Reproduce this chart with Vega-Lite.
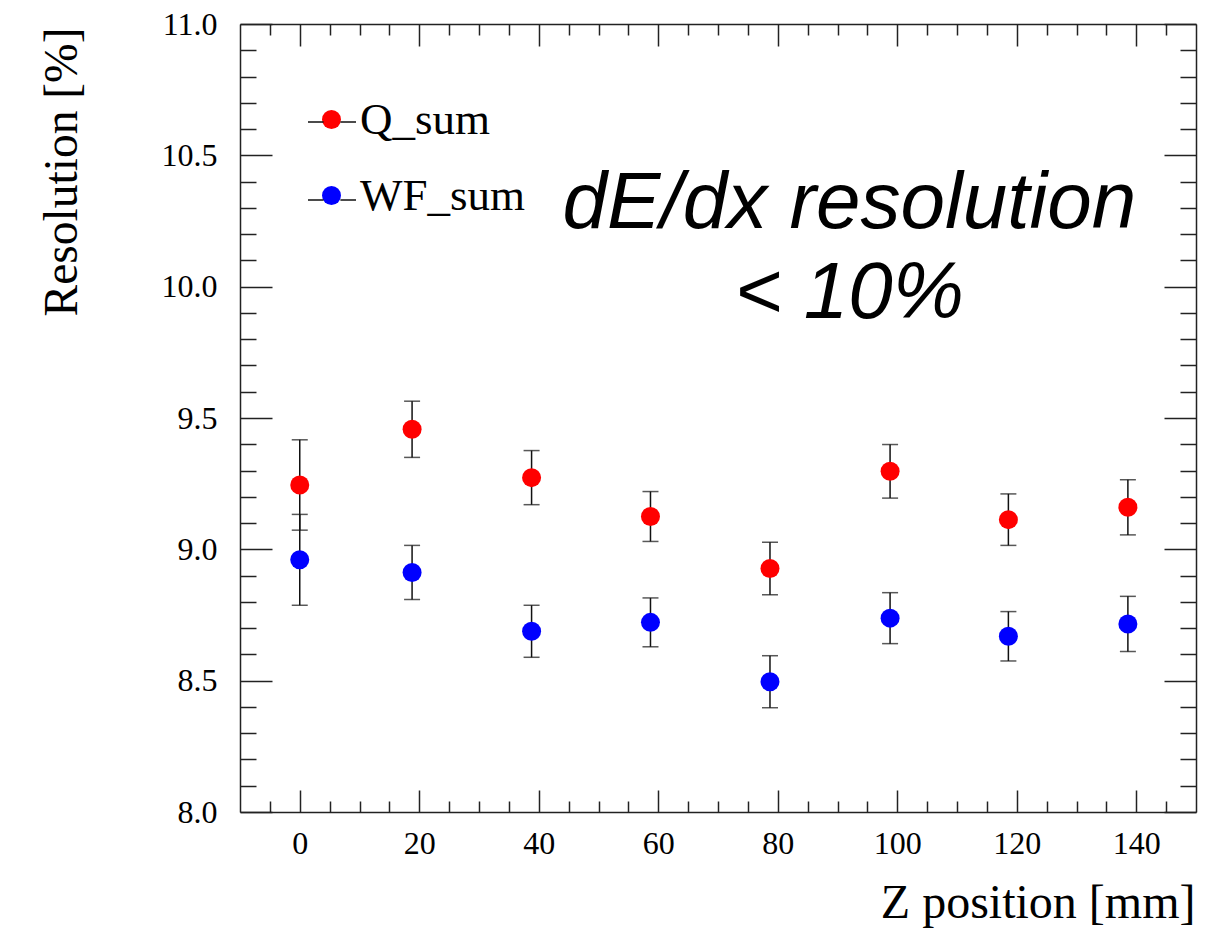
{
  "$schema": "https://vega.github.io/schema/vega-lite/v6.json",
  "width": 956,
  "height": 788,
  "autosize": {"type": "none"},
  "padding": {"left": 240, "top": 24, "right": 17, "bottom": 119},
  "background": "white",
  "config": {
    "view": {"stroke": null},
    "axis": {
      "grid": false,
      "labelFont": "Liberation Serif",
      "titleFont": "Liberation Serif",
      "labelColor": "black",
      "titleColor": "black",
      "tickColor": "#222",
      "domainColor": "#222",
      "titleFontWeight": "normal",
      "labelFlush": false,
      "labelOverlap": false
    }
  },
  "data": {
    "values": [
      {"z": 0, "res": 9.245, "err": 0.172, "series": "Q_sum"},
      {"z": 18.8, "res": 9.457, "err": 0.107, "series": "Q_sum"},
      {"z": 38.8, "res": 9.273, "err": 0.103, "series": "Q_sum"},
      {"z": 58.7, "res": 9.125, "err": 0.095, "series": "Q_sum"},
      {"z": 78.7, "res": 8.927, "err": 0.1, "series": "Q_sum"},
      {"z": 98.8, "res": 9.297, "err": 0.102, "series": "Q_sum"},
      {"z": 118.6, "res": 9.113, "err": 0.098, "series": "Q_sum"},
      {"z": 138.6, "res": 9.16, "err": 0.105, "series": "Q_sum"},
      {"z": 0, "res": 8.96, "err": 0.173, "series": "WF_sum"},
      {"z": 18.8, "res": 8.912, "err": 0.103, "series": "WF_sum"},
      {"z": 38.8, "res": 8.688, "err": 0.099, "series": "WF_sum"},
      {"z": 58.7, "res": 8.722, "err": 0.093, "series": "WF_sum"},
      {"z": 78.7, "res": 8.496, "err": 0.099, "series": "WF_sum"},
      {"z": 98.8, "res": 8.738, "err": 0.097, "series": "WF_sum"},
      {"z": 118.6, "res": 8.669, "err": 0.094, "series": "WF_sum"},
      {"z": 138.6, "res": 8.716, "err": 0.105, "series": "WF_sum"}
    ]
  },
  "resolve": {"axis": {"x": "independent", "y": "independent"}},
  "layer": [
    {
      "mark": {"type": "errorbar", "color": "#111", "thickness": 1.5, "ticks": {"size": 16, "thickness": 1.5, "color": "#111"}},
      "encoding": {
        "x": {"field": "z", "type": "quantitative", "scale": {"domain": [-10, 150], "nice": false, "zero": false}, "axis": null},
        "y": {"field": "res", "type": "quantitative", "scale": {"domain": [8, 11], "nice": false, "zero": false}, "axis": null},
        "yError": {"field": "err"}
      }
    },
    {
      "mark": {"type": "point", "shape": "circle", "filled": true, "size": 361, "opacity": 1, "strokeWidth": 0},
      "encoding": {
        "x": {"field": "z", "type": "quantitative", "scale": {"domain": [-10, 150], "nice": false, "zero": false},
          "axis": {"orient": "bottom", "values": [0, 20, 40, 60, 80, 100, 120, 140], "tickSize": -22, "tickWidth": 1.5, "domain": true, "domainWidth": 1.5,
            "labelFontSize": 32, "labelPadding": 38, "title": "Z position [mm]", "titleFontSize": 48, "titleAnchor": "end", "titleAlign": "right",
            "titleX": 955, "titleY": 105, "titleBaseline": "alphabetic"}},
        "y": {"field": "res", "type": "quantitative", "scale": {"domain": [8, 11], "nice": false, "zero": false},
          "axis": {"orient": "left", "values": [8, 8.5, 9, 9.5, 10, 10.5, 11], "format": ".1f", "tickSize": -32, "tickWidth": 1.5, "domain": true, "domainWidth": 1.5,
            "labelFontSize": 32, "labelPadding": 55, "title": "Resolution [%]", "titleFontSize": 47.5, "titleAngle": -90, "titleAnchor": "end", "titleAlign": "right",
            "titleX": -164, "titleY": 3, "titleBaseline": "alphabetic"}},
        "color": {"field": "series", "type": "nominal", "scale": {"domain": ["Q_sum", "WF_sum"], "range": ["#ff0000", "#0000ff"]},
          "legend": {"title": null, "orient": "none", "legendX": 69, "legendY": 73, "symbolType": "circle", "symbolSize": 361, "symbolStrokeWidth": 0,
            "labelFont": "Liberation Serif", "labelFontSize": 45, "labelColor": "black", "labelOffset": 6, "labelLimit": 500, "rowPadding": 30, "padding": 0}}
      }
    },
    {
      "mark": {"type": "point", "opacity": 0},
      "encoding": {
        "x": {"field": "z", "type": "quantitative", "scale": {"domain": [-10, 150], "nice": false, "zero": false},
          "axis": {"orient": "bottom", "values": [-5, 5, 10, 15, 25, 30, 35, 45, 50, 55, 65, 70, 75, 85, 90, 95, 105, 110, 115, 125, 130, 135, 145],
            "tickSize": -11, "tickWidth": 1.5, "domain": false, "labels": false, "title": null}},
        "y": {"field": "res", "type": "quantitative", "scale": {"domain": [8, 11], "nice": false, "zero": false},
          "axis": {"orient": "left", "values": [8.1, 8.2, 8.3, 8.4, 8.6, 8.7, 8.8, 8.9, 9.1, 9.2, 9.3, 9.4, 9.6, 9.7, 9.8, 9.9, 10.1, 10.2, 10.3, 10.4, 10.6, 10.7, 10.8, 10.9],
            "tickSize": -16, "tickWidth": 1.5, "domain": false, "labels": false, "title": null}}
      }
    },
    {
      "mark": {"type": "point", "opacity": 0},
      "encoding": {
        "x": {"field": "z", "type": "quantitative", "scale": {"domain": [-10, 150], "nice": false, "zero": false},
          "axis": {"orient": "top", "values": [0, 20, 40, 60, 80, 100, 120, 140], "tickSize": -22, "tickWidth": 1.5, "domain": true, "domainWidth": 1.5, "labels": false, "title": null}},
        "y": {"field": "res", "type": "quantitative", "scale": {"domain": [8, 11], "nice": false, "zero": false},
          "axis": {"orient": "right", "values": [8, 8.5, 9, 9.5, 10, 10.5, 11], "tickSize": -32, "tickWidth": 1.5, "domain": true, "domainWidth": 1.5, "labels": false, "title": null}}
      }
    },
    {
      "mark": {"type": "point", "opacity": 0},
      "encoding": {
        "x": {"field": "z", "type": "quantitative", "scale": {"domain": [-10, 150], "nice": false, "zero": false},
          "axis": {"orient": "top", "values": [-5, 5, 10, 15, 25, 30, 35, 45, 50, 55, 65, 70, 75, 85, 90, 95, 105, 110, 115, 125, 130, 135, 145],
            "tickSize": -11, "tickWidth": 1.5, "domain": false, "labels": false, "title": null}},
        "y": {"field": "res", "type": "quantitative", "scale": {"domain": [8, 11], "nice": false, "zero": false},
          "axis": {"orient": "right", "values": [8.1, 8.2, 8.3, 8.4, 8.6, 8.7, 8.8, 8.9, 9.1, 9.2, 9.3, 9.4, 9.6, 9.7, 9.8, 9.9, 10.1, 10.2, 10.3, 10.4, 10.6, 10.7, 10.8, 10.9],
            "tickSize": -16, "tickWidth": 1.5, "domain": false, "labels": false, "title": null}}
      }
    },
    {
      "data": {"values": [
        {"z": 92, "res": 10.224, "label": "dE/dx resolution"},
        {"z": 92, "res": 9.882, "label": "< 10%"}
      ]},
      "mark": {"type": "text", "font": "Liberation Sans", "fontStyle": "italic", "fontSize": 80, "align": "center", "baseline": "alphabetic", "color": "black"},
      "encoding": {
        "x": {"field": "z", "type": "quantitative", "scale": {"domain": [-10, 150], "nice": false, "zero": false}, "axis": null},
        "y": {"field": "res", "type": "quantitative", "scale": {"domain": [8, 11], "nice": false, "zero": false}, "axis": null},
        "text": {"field": "label"}
      }
    },
    {
      "data": {"values": [{"entry": "Q_sum"}, {"entry": "WF_sum"}]},
      "mark": {"type": "point", "opacity": 0, "filled": false, "color": "#111"},
      "encoding": {
        "shape": {"field": "entry", "type": "nominal", "scale": {"range": ["M-1,0H-0.35M0.35,0H1", "M-1,0H-0.35M0.35,0H1"]},
          "legend": {"title": null, "orient": "none", "legendX": 67, "legendY": 73, "symbolSize": 2304, "symbolStrokeColor": "#111", "symbolStrokeWidth": 1.5,
            "symbolOpacity": 1, "symbolFillColor": "transparent", "labelExpr": "''", "labelFontSize": 45, "rowPadding": 30, "padding": 0}}
      }
    }
  ]
}
